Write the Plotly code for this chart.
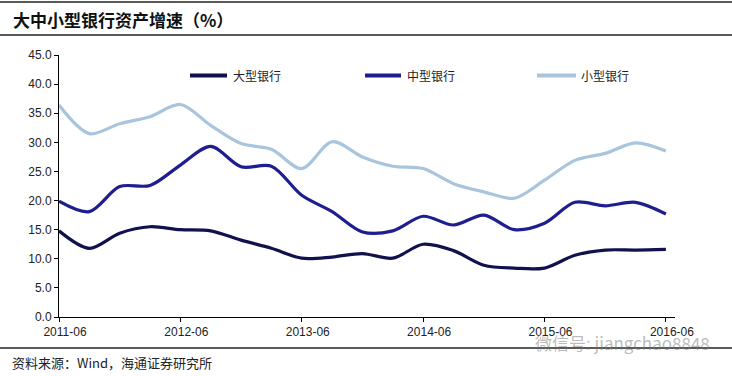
import plotly.graph_objects as go

quarters = ["2011-06", "2011-09", "2011-12", "2012-03", "2012-06", "2012-09", "2012-12",
            "2013-03", "2013-06", "2013-09", "2013-12", "2014-03", "2014-06", "2014-09",
            "2014-12", "2015-03", "2015-06", "2015-09", "2015-12", "2016-03", "2016-06"]
large = [14.8, 11.8, 14.4, 15.5, 15.0, 14.8, 13.2, 11.8, 10.1, 10.3, 10.9, 10.1, 12.5, 11.4,
         8.9, 8.4, 8.4, 10.6, 11.5, 11.5, 11.6]
medium = [19.9, 18.1, 22.4, 22.6, 26.1, 29.3, 25.8, 25.9, 20.9, 18.1, 14.6, 14.8, 17.3, 15.8,
          17.5, 15.0, 16.1, 19.7, 19.1, 19.7, 17.7]
small = [36.4, 31.5, 33.2, 34.4, 36.5, 32.9, 29.8, 28.8, 25.5, 30.1, 27.5, 25.9, 25.5, 22.9,
         21.5, 20.4, 23.5, 26.9, 28.1, 29.9, 28.5]
series_names = ["大型银行", "中型银行", "小型银行"]
tick_labels = ["2011-06", "2012-06", "2013-06", "2014-06", "2015-06", "2016-06"]

colors = ["#11114d", "#1e1e8e", "#a8c5dd"]
idx = list(range(len(quarters)))

W, H = 732, 376
ML, MR, MT, MB = 59, 57, 55, 59
PW, PH = W - ML - MR, H - MT - MB


def px(xp):
    return (xp - ML) / PW


def py(yp):
    return (H - MB - yp) / PH


fig = go.Figure()
for name, vals, c in zip(series_names, [large, medium, small], colors):
    fig.add_trace(go.Scatter(x=idx, y=vals, name=name, mode="lines",
                             line=dict(color=c, width=3.2, shape="spline", smoothing=0.9),
                             hoverinfo="skip", showlegend=False))

tickvals = [quarters.index(t) for t in tick_labels]

fig.update_layout(
    width=W, height=H,
    margin=dict(l=ML, r=MR, t=MT, b=MB),
    paper_bgcolor="white", plot_bgcolor="white",
    showlegend=False,
    xaxis=dict(range=[0, 20.3], tickvals=tickvals, ticktext=tick_labels,
               showline=True, linecolor="black", linewidth=1,
               ticks="outside", ticklen=4, tickcolor="black",
               showgrid=False, zeroline=False, ticklabelshift=6,
               tickfont=dict(family="Arial, Liberation Sans", size=12, color="#222")),
    yaxis=dict(range=[0, 45], tickvals=[0, 5, 10, 15, 20, 25, 30, 35, 40, 45],
               tickformat=".1f", showline=True, linecolor="black", linewidth=1,
               ticks="outside", ticklen=4, tickcolor="black",
               showgrid=False, zeroline=False,
               tickfont=dict(family="Arial, Liberation Sans", size=12, color="#222")),
)

# manual legend
legend_pos = [(190, 227, 231), (365, 401, 405), (537, 576, 579)]
for name, c, (x0, x1, xt) in zip(series_names, colors, legend_pos):
    fig.add_shape(type="line", xref="paper", yref="paper", x0=px(x0), x1=px(x1),
                  y0=py(75.5), y1=py(75.5), line=dict(color=c, width=4))
    fig.add_annotation(text=name, xref="paper", yref="paper", x=px(xt), y=py(75.5),
                       xanchor="left", yanchor="middle", showarrow=False,
                       font=dict(family="Noto Sans CJK SC", size=12, color="#222"))

# title & separators
for yline in (2, 35, 348):
    fig.add_shape(type="line", xref="paper", yref="paper", x0=px(0), x1=px(W),
                  y0=py(yline), y1=py(yline), line=dict(color="#222", width=1.5))
fig.add_annotation(text="<b>大中小型银行资产增速（%）</b>", xref="paper", yref="paper",
                   x=px(11), y=py(19), xanchor="left", yanchor="middle", showarrow=False,
                   font=dict(family="Noto Sans CJK SC", size=17, color="#111"))
fig.add_annotation(text="资料来源：Wind，海通证券研究所", xref="paper", yref="paper",
                   x=px(10), y=py(362), xanchor="left", yanchor="middle", showarrow=False,
                   font=dict(family="Noto Sans CJK SC", size=13, color="#222"))
fig.add_annotation(text="微信号: jiangchao8848", xref="paper", yref="paper",
                   x=px(712), y=py(342), xanchor="right", yanchor="middle", showarrow=False,
                   font=dict(family="Noto Sans CJK SC", size=17, color="rgba(120,120,120,0.5)"))

fig.write_html("out.html", config={"displayModeBar": False},
               post_script="document.body.style.margin='0';")
